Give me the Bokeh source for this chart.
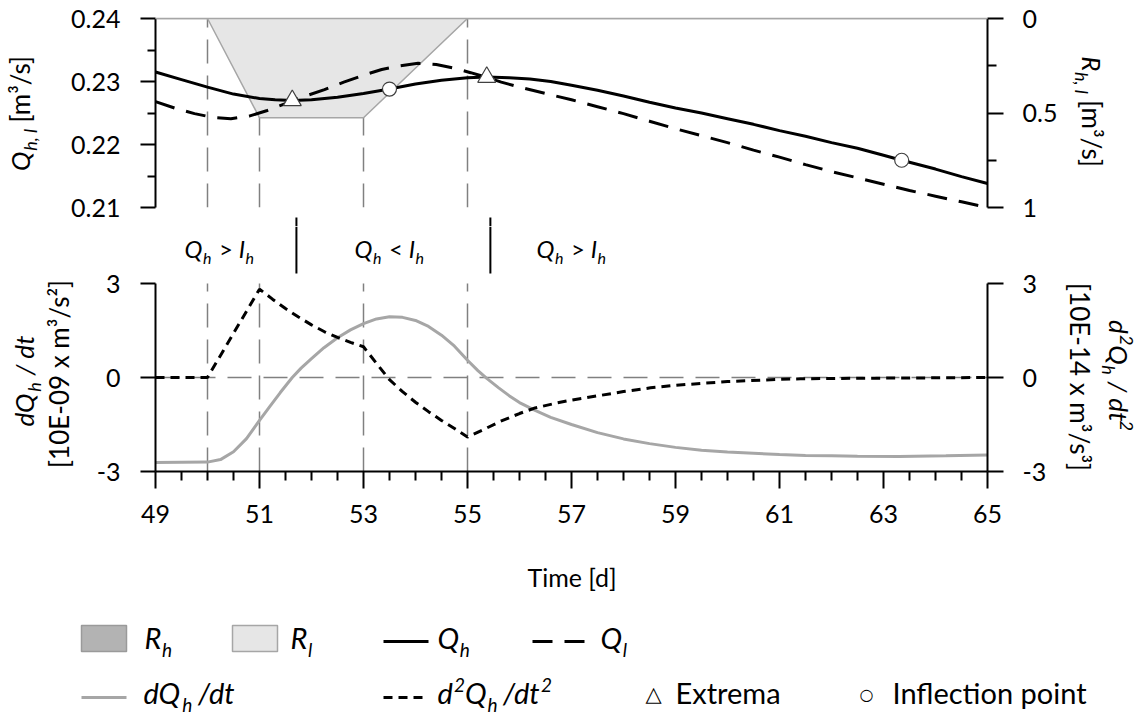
import math
from bokeh.plotting import figure
from bokeh.layouts import column
from bokeh.models import Range1d, LinearAxis, FixedTicker
from bokeh.core.properties import value
from bokeh.embed import file_html
from bokeh.resources import INLINE

# ---------------- data ----------------
q_h_days = [49.0, 49.5, 50.0, 50.5, 51.0, 51.3, 51.63, 52.0, 52.5, 53.0, 53.5, 54.0, 54.5,
            55.0, 55.37, 55.8, 56.2, 56.6, 57.0, 57.5, 58.0, 58.5, 59.0, 59.5, 60.0, 60.5,
            61.0, 61.5, 62.0, 62.5, 63.0, 63.35, 64.0, 64.5, 65.0]
q_h = [0.2315, 0.2303, 0.2291, 0.2280, 0.2273, 0.2271, 0.2270, 0.2271, 0.2275, 0.2281,
       0.2288, 0.2296, 0.2302, 0.2306, 0.2307, 0.2306, 0.2304, 0.2300, 0.2294, 0.2286,
       0.2277, 0.2267, 0.2258, 0.2250, 0.2241, 0.2232, 0.2222, 0.2213, 0.2203, 0.2194,
       0.2183, 0.2175, 0.2161, 0.2149, 0.2138]

q_l_days = [49.0, 49.4, 49.75, 50.1, 50.45, 50.8, 51.15, 51.5, 51.85, 52.25, 52.62, 53.0,
            53.35, 53.7, 54.05, 54.4, 54.75, 55.06, 55.35, 55.65, 56.0, 56.5, 57.0, 57.5,
            58.0, 58.5, 59.0, 59.5, 60.0, 60.5, 61.0, 61.5, 62.0, 62.5, 63.0, 63.5, 64.0,
            64.5, 65.0]
q_l = [0.2268, 0.2257, 0.2249, 0.2243, 0.2241, 0.2245, 0.2254, 0.2265, 0.2276, 0.2287,
       0.2299, 0.2310, 0.2319, 0.2325, 0.2329, 0.2327, 0.2321, 0.2314, 0.2307, 0.2299,
       0.2291, 0.2281, 0.2271, 0.2260, 0.2249, 0.2237, 0.2225, 0.2214, 0.2203, 0.2191,
       0.2180, 0.2168, 0.2157, 0.2147, 0.2137, 0.2127, 0.2118, 0.2109, 0.2100]

r_days = [49, 50, 51, 53, 55, 65]
r_l = [0, 0, 0.525, 0.525, 0, 0]
r_h = [0, 0, 0, 0, 0, 0]

dq_days = [49.0, 50.0, 50.25, 50.5, 50.75, 51.0, 51.2, 51.4, 51.63, 51.8, 52.0, 52.24,
           52.5, 52.75, 53.0, 53.25, 53.5, 53.75, 54.0, 54.25, 54.5, 54.75, 55.0, 55.2,
           55.37, 55.6, 55.8, 56.0, 56.3, 56.6, 57.0, 57.5, 58.0, 58.5, 59.0, 59.5, 60.0,
           60.5, 61.0, 61.5, 62.0, 62.5, 63.3, 64.2, 65.0]
dq = [-2.71, -2.70, -2.62, -2.37, -1.95, -1.37, -0.92, -0.48, 0.0, 0.30, 0.60, 0.95,
      1.27, 1.52, 1.72, 1.87, 1.94, 1.92, 1.82, 1.63, 1.35, 1.00, 0.55, 0.22,
      -0.03, -0.33, -0.58, -0.80, -1.05, -1.27, -1.50, -1.76, -1.96, -2.11, -2.23, -2.32,
      -2.38, -2.42, -2.46, -2.49, -2.50, -2.51, -2.52, -2.50, -2.47]

d2q_days = [49.0, 50.0, 51.0, 51.25, 51.5, 51.75, 52.0, 52.25, 52.5, 52.75, 53.0, 53.25,
            53.5, 53.75, 54.0, 54.25, 54.5, 54.75, 55.0, 55.3, 55.63, 56.0, 56.3, 56.7,
            57.0, 57.56, 58.0, 58.52, 59.0, 59.48, 60.0, 60.44, 61.0, 61.4, 62.0, 63.0,
            64.0, 65.0]
d2q = [0.0, 0.0, 2.82, 2.50, 2.20, 1.93, 1.68, 1.46, 1.28, 1.12, 0.98, 0.45,
       -0.07, -0.45, -0.79, -1.09, -1.37, -1.63, -1.90, -1.67, -1.40, -1.15, -0.97, -0.82,
       -0.72, -0.57, -0.45, -0.33, -0.25, -0.19, -0.13, -0.10, -0.06, -0.04, -0.03, -0.02,
       -0.01, 0.0]

event_days = [50, 51, 53, 55]
crossing_days = [51.71, 55.44]
extrema_days = [51.63, 55.37]
extrema_q = [0.2270, 0.2307]
inflection_days = [53.5, 63.35]
inflection_q = [0.2288, 0.2175]

q_ticks = [0.21, 0.22, 0.23, 0.24]
q_minor = [0.215, 0.225, 0.235]
r_ticks = [0, 0.5, 1]
r_minor = [0.25, 0.75]
r_labels = {0: "0", 0.5: "0.5", 1: "1"}
d_ticks = [-3, 0, 3]
d_labels = {-3: "-3", 0: "0", 3: "3"}
x_ticks = [49, 51, 53, 55, 57, 59, 61, 63, 65]
x_minor = [49.5, 50, 50.5, 51.5, 52, 52.5, 53.5, 54, 54.5, 55.5, 56, 56.5, 57.5, 58, 58.5,
           59.5, 60, 60.5, 61.5, 62, 62.5, 63.5, 64, 64.5]

FONT = "Lato"
GRAY_LINE = "#a6a6a6"
EVENT_GRAY = "#808080"
EV_DASH = "24 12"
SPLIT = 226          # page row where the upper figure ends and the lower one begins


def style_axis(ax, tick_out=15, minor_out=8, standoff=18):
    ax.axis_line_color = "black"
    ax.axis_line_width = 2
    ax.major_tick_line_color = "black"
    ax.major_tick_line_width = 2
    ax.minor_tick_line_color = "black"
    ax.minor_tick_line_width = 2
    ax.major_tick_in = 0
    ax.major_tick_out = tick_out
    ax.minor_tick_in = 0
    ax.minor_tick_out = minor_out
    ax.major_label_text_font = FONT
    ax.major_label_text_font_size = "25px"
    ax.major_label_text_color = "black"
    ax.major_label_standoff = standoff


def base_fig(height, y_range, top, bottom, py_range):
    f = figure(width=1139, height=height, x_range=Range1d(49, 65), y_range=y_range,
               output_backend="svg", toolbar_location=None, x_axis_type=None, y_axis_type=None,
               min_border_left=155, min_border_right=152, min_border_top=top,
               min_border_bottom=bottom)
    f.outline_line_color = None
    f.background_fill_color = "white"
    f.border_fill_color = "white"
    f.extra_x_ranges = {"px": Range1d(155, 987)}
    f.extra_y_ranges = {"py": py_range}
    return f


# ---------------- text helpers ----------------
W = {' ': 0.193, '.': 0.24, ',': 0.24, '[': 0.30, ']': 0.30, '/': 0.38, '-': 0.35,
     'E': 0.55, 'x': 0.49, 'm': 0.84, 's': 0.43, '³': 0.38, '²': 0.38, '>': 0.58, '<': 0.58,
     'Q': 0.77, 'R': 0.60, 'I': 0.28, 'h': 0.56, 'l': 0.25, 'd': 0.57, 't': 0.36, 'T': 0.55,
     'i': 0.24, 'e': 0.53, 'a': 0.50, 'r': 0.37, 'n': 0.56, 'f': 0.33, 'c': 0.46, 'o': 0.56,
     'p': 0.56}
for _c in "0123456789":
    W[_c] = 0.58

BASE_FIX = 0.44   # empirical: rendered baseline sits this many em below the anchor


def tw(s, size):
    return sum(W.get(c, 0.55) for c in s) * size


def run(f, segs, x, y, angle=0.0, align="left", font=FONT):
    """segs: (text, size, style, baseline shift) ; text None => blank advance of `size` px"""
    def seg_w(sg):
        return sg[1] if sg[0] is None else tw(sg[0], sg[1])
    total = sum(seg_w(sg) for sg in segs)
    rx, ry = math.cos(angle), -math.sin(angle)
    dx, dyv = math.sin(angle), math.cos(angle)
    adv = -total / 2 if align == "center" else 0.0
    for sg in segs:
        s, sz, st, dy = sg
        if s is not None:
            shift = dy - BASE_FIX * sz
            lx = x + rx * adv + dx * shift
            ly = y + ry * adv + dyv * shift
            r = f.text(x=[lx], y=[ly], text=[s], angle=angle, x_range_name="px", y_range_name="py",
                       text_font=value(font), text_font_size=value(f"{sz}px"),
                       text_font_style=value(st), text_align=value("left"),
                       text_baseline=value("alphabetic"), text_color="black")
            r.level = "overlay"
        adv += seg_w(sg)


I, N = "italic", "normal"
A = 26   # axis title size
S = 18   # subscript size

# =============== top figure (flows) ===============
pt = base_fig(SPLIT, Range1d(0.21, 0.24), 18, SPLIT - 207, Range1d(207, 18))
pt.extra_y_ranges["r"] = Range1d(1, 0)

ax_q = LinearAxis(ticker=FixedTicker(ticks=q_ticks, minor_ticks=q_minor))
style_axis(ax_q, 15, 8, 20)
pt.add_layout(ax_q, "left")
ax_r = LinearAxis(y_range_name="r", ticker=FixedTicker(ticks=r_ticks, minor_ticks=r_minor),
                  major_label_overrides=r_labels)
style_axis(ax_r, 16, 9, 19)
pt.add_layout(ax_r, "right")

n_ev = len(event_days)
pt.segment(x0=event_days, x1=event_days, y0=[0.21] * n_ev, y1=[0.24] * n_ev,
           line_color=EVENT_GRAY, line_width=1.5, line_dash=EV_DASH)
pt.varea(x=r_days, y1=r_h, y2=r_l, y_range_name="r", fill_color="#e6e6e6")
pt.line(r_days, r_l, y_range_name="r", line_color=GRAY_LINE, line_width=1.5)
top_line = pt.line(r_days, r_h, y_range_name="r", line_color=GRAY_LINE, line_width=1.5)
top_line.level = "overlay"
pt.line(q_l_days, q_l, line_color="black", line_width=3, line_dash="20 12")
pt.line(q_h_days, q_h, line_color="black", line_width=3)
pt.scatter(extrema_days, extrema_q, marker="triangle", size=18,
           fill_color="white", line_color="#404040", line_width=1.2)
pt.scatter(inflection_days, inflection_q, marker="circle", size=14,
           fill_color="white", line_color="#404040", line_width=1.2)

sep_top = pt.segment(x0=crossing_days, x1=crossing_days, y0=[217, 217], y1=[SPLIT, SPLIT],
                     y_range_name="py", line_color="black", line_width=2)
sep_top.level = "overlay"

run(pt, [("Q", A, I, 0), ("h, l", S, I, 6), (None, 6, N, 0), ("[m³/s]", A, N, 0)],
    31, 112, math.pi / 2, "center")
run(pt, [("R", A, I, 0), ("h, l", S, I, 6), (None, 6, N, 0), ("[m³/s]", A, N, 0)],
    1080, 112, -math.pi / 2, "center")

# =============== bottom figure (derivatives + legend) ===============
d_top = 3 + (283 - SPLIT) * 6 / 188
pb = base_fig(715 - SPLIT, Range1d(-3, d_top), 0, 244, Range1d(471, SPLIT))

ax_dl = LinearAxis(bounds=(-3, 3), ticker=FixedTicker(ticks=d_ticks, minor_ticks=[]),
                   major_label_overrides=d_labels)
style_axis(ax_dl, 15, 8, 20)
pb.add_layout(ax_dl, "left")
ax_dr = LinearAxis(bounds=(-3, 3), ticker=FixedTicker(ticks=d_ticks, minor_ticks=[]),
                   major_label_overrides=d_labels)
style_axis(ax_dr, 16, 9, 19)
pb.add_layout(ax_dr, "right")
ax_x = LinearAxis(ticker=FixedTicker(ticks=x_ticks, minor_ticks=x_minor))
style_axis(ax_x, 17, 9, 16)
pb.add_layout(ax_x, "below")

pb.segment(x0=[49], x1=[65], y0=[0], y1=[0], line_color=EVENT_GRAY, line_width=1.5,
           line_dash=EV_DASH)
pb.segment(x0=event_days, x1=event_days, y0=[-3] * n_ev, y1=[3] * n_ev,
           line_color=EVENT_GRAY, line_width=1.5, line_dash=EV_DASH)
pb.line(dq_days, dq, line_color=GRAY_LINE, line_width=3)
pb.line(d2q_days, d2q, line_color="black", line_width=3, line_dash="9 6")

pb.segment(x0=crossing_days, x1=crossing_days, y0=[SPLIT, SPLIT], y1=[273, 273],
           y_range_name="py", line_color="black", line_width=2)

# regime texts
M, MS = 24, 16
for cx, sym in [(219, ">"), (389, "<"), (571, ">")]:
    run(pb, [("Q", M, I, 0), ("h", MS, I, 5), (None, 7, N, 0), (sym, M, N, 0), (None, 6, N, 0),
             ("I", M, I, 0), ("h", MS, I, 5)], cx, 259, 0, "center")

# axis titles
run(pb, [("dQ", A, I, 0), ("h", S, I, 6), (None, 6, N, 0), ("/ dt", A, I, 0)],
    35, 381, math.pi / 2, "center")
run(pb, [("[10E-09 x m³/s²]", A, N, 0)], 70, 375, math.pi / 2, "center")
run(pb, [("d", A, I, 0), ("2", S, I, -11), ("Q", A, I, 0), ("h", S, I, 6), (None, 6, N, 0),
         ("/ dt", A, I, 0), ("2", S, I, -11)], 1107, 375, -math.pi / 2, "center")
run(pb, [("[10E-14 x m³/s³]", A, N, 0)], 1068, 375, -math.pi / 2, "center")
run(pb, [("Time [d]", 25, N, 0)], 571, 587, 0, "center")

# legend (pixel layout)
L, LS = 29, 19
r1, r2 = 650, 705
leg = []
leg.append(pb.quad(left=[81], right=[126], top=[625], bottom=[651], x_range_name="px",
                   y_range_name="py", fill_color="#b3b3b3", line_color="#9a9a9a", line_width=1.5))
leg.append(pb.quad(left=[232], right=[277], top=[625], bottom=[651], x_range_name="px",
                   y_range_name="py", fill_color="#e6e6e6", line_color="#a6a6a6", line_width=1.5))
leg.append(pb.line([383, 428], [641, 641], x_range_name="px", y_range_name="py",
                   line_color="black", line_width=3))
leg.append(pb.line([532, 592], [641, 641], x_range_name="px", y_range_name="py",
                   line_color="black", line_width=3, line_dash="20 12"))
leg.append(pb.line([81, 126], [697, 697], x_range_name="px", y_range_name="py",
                   line_color=GRAY_LINE, line_width=3))
leg.append(pb.line([383, 428], [697, 697], x_range_name="px", y_range_name="py",
                   line_color="black", line_width=3, line_dash="9 6"))
for r in leg:
    r.level = "overlay"

run(pb, [("R", L, I, 0), ("h", LS, I, 7)], 144, r1)
run(pb, [("R", L, I, 0), ("l", LS, I, 7)], 290, r1)
run(pb, [("Q", L, I, 0), ("h", LS, I, 7)], 437, r1)
run(pb, [("Q", L, I, 0), ("l", LS, I, 7)], 600, r1)
run(pb, [("dQ", L, I, 0), ("h", LS, I, 7), (None, 5, N, 0), ("/dt", L, I, 0)], 143, r2)
run(pb, [("d", L, I, 0), ("2", LS, I, -12), ("Q", L, I, 0), ("h", LS, I, 7), (None, 5, N, 0),
         ("/dt", L, I, 0), ("2", LS, I, -12)], 437, r2)
run(pb, [("△", 21, N, 0)], 645, 703, font="DejaVu Sans")
run(pb, [("Extrema", L, N, 0)], 675, r2)
run(pb, [("○", 16, N, 0)], 859, 701, font="DejaVu Sans")
run(pb, [("Inflection point", L, N, 0)], 892, r2)

layout = column(pt, pb, spacing=0)
open("out.html", "w").write(file_html(layout, INLINE))
